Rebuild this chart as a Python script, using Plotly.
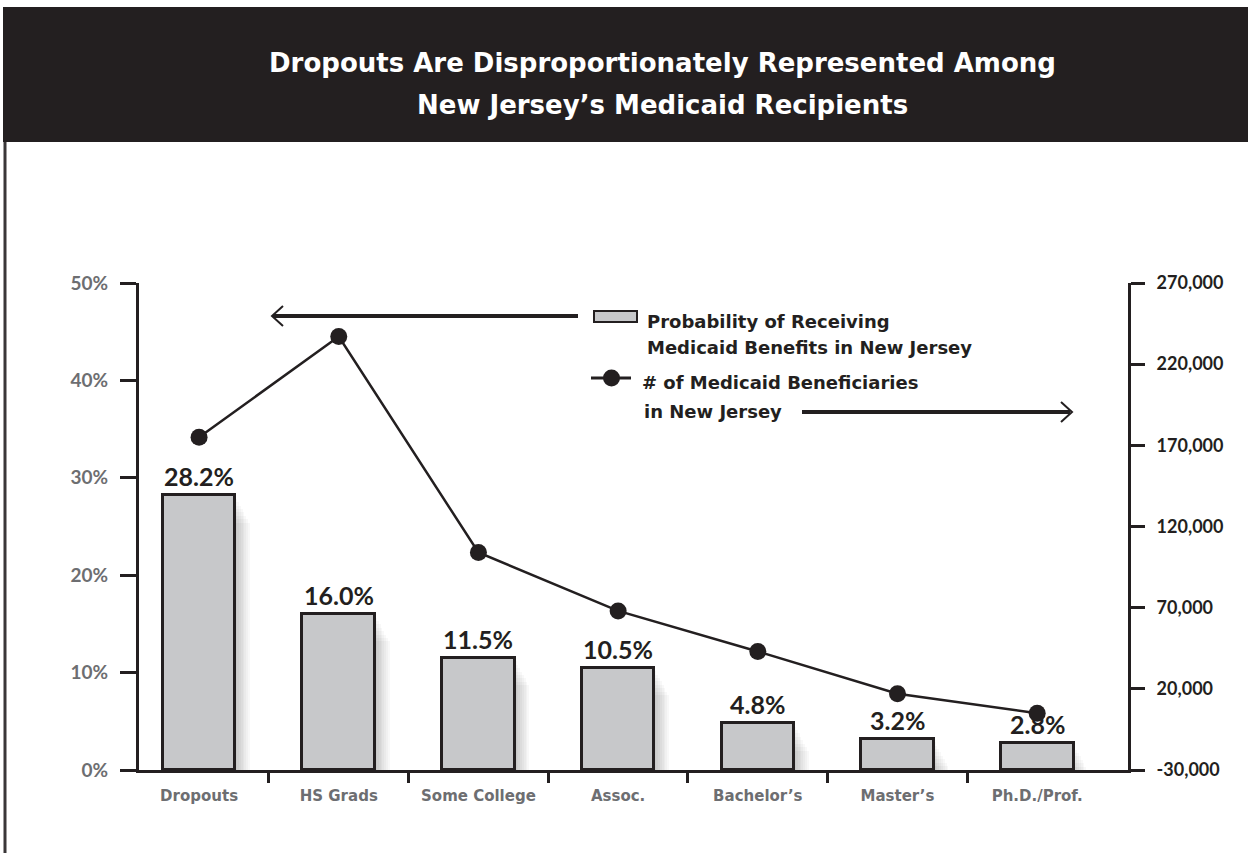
import plotly.graph_objects as go

# Education levels and the two measures plotted against them
categories = ["Dropouts", "HS Grads", "Some College", "Assoc.", "Bachelor\u2019s", "Master\u2019s", "Ph.D./Prof."]
probability_pct = [28.2, 16.0, 11.5, 10.5, 4.8, 3.2, 2.8]
beneficiaries = [175000, 237000, 104000, 68000, 43000, 17000, 5000]

left_ticks = [0, 10, 20, 30, 40, 50]
left_labels = ["0%", "10%", "20%", "30%", "40%", "50%"]
right_ticks = [-30000, 20000, 70000, 120000, 170000, 220000, 270000]
right_labels = ["-30,000", "20,000", "70,000", "120,000", "170,000", "220,000", "270,000"]

DARK = "#231f20"
GREY_TXT = "#6d6e71"
BAR_FILL = "#c7c8ca"
ROUND = "Lato"
WIDE = "DejaVu Sans"

W, H = 1248, 853
PL, PR, PT, PB = 139, 1128, 283, 770


def px(x):
    return (x - PL) / (PR - PL)


def py(y):
    return (PB - y) / (PB - PT)


xs = list(range(len(categories)))
fig = go.Figure()

# soft drop shadow to the right of each bar: stacked translucent layers,
# each a little further right and a little lower
for j in range(1, 9):
    fig.add_trace(go.Bar(
        x=xs, y=[max(v - 0.35 * j, 0) for v in probability_pct],
        offset=-0.26 + 0.013 * j, width=0.52,
        marker=dict(color="rgba(0,0,0,0.028)", line=dict(width=0)),
        hoverinfo="skip", showlegend=False,
    ))

fig.add_trace(go.Bar(
    x=xs, y=probability_pct, offset=-0.26, width=0.52,
    marker=dict(color=BAR_FILL, line=dict(color=DARK, width=3)),
    name="Probability of Receiving Medicaid Benefits in New Jersey",
    showlegend=False,
))

fig.add_trace(go.Scatter(
    x=xs, y=beneficiaries, yaxis="y2", mode="lines+markers",
    line=dict(color=DARK, width=2.5),
    marker=dict(color=DARK, size=17),
    name="# of Medicaid Beneficiaries in New Jersey",
    showlegend=False, cliponaxis=False,
))

annotations = []
for x, v in zip(xs, probability_pct):
    annotations.append(dict(
        x=x, y=v, xref="x", yref="y", text=f"{v:.1f}%", showarrow=False,
        yanchor="bottom", yshift=2,
        font=dict(family=ROUND, size=25, color=DARK, weight="bold"),
    ))

# title band
title_font = dict(family=WIDE, size=26, color="white", weight="bold")
annotations += [
    dict(x=px(662), y=py(63), xref="paper", yref="paper", showarrow=False,
         xanchor="center", yanchor="middle",
         text="Dropouts Are Disproportionately Represented Among", font=title_font),
    dict(x=px(662), y=py(105), xref="paper", yref="paper", showarrow=False,
         xanchor="center", yanchor="middle",
         text="New Jersey\u2019s Medicaid Recipients", font=title_font),
]

# legend texts
leg_font = dict(family=WIDE, size=18, color=DARK, weight="bold")
for txt, x0, yc in [
    ("Probability of Receiving", 645, 321),
    ("Medicaid Benefits in New Jersey", 645, 347),
    ("# of Medicaid Beneficiaries", 640, 382),
    ("in New Jersey", 642, 411),
]:
    annotations.append(dict(x=px(x0), y=py(yc), xref="paper", yref="paper",
                            text=txt, showarrow=False, xanchor="left",
                            yanchor="middle", font=leg_font))

shapes = [
    dict(type="rect", xref="paper", yref="paper", x0=px(3), x1=px(1248),
         y0=py(142), y1=py(7), fillcolor=DARK, line=dict(width=0), layer="above"),
    dict(type="line", xref="paper", yref="paper", x0=px(5), x1=px(5),
         y0=py(142), y1=py(853), line=dict(color="#3a3738", width=3), layer="above"),
    # legend: bar swatch with arrow pointing to the left axis
    dict(type="rect", xref="paper", yref="paper", x0=px(594), x1=px(637),
         y0=py(322), y1=py(311), fillcolor=BAR_FILL, line=dict(color=DARK, width=2)),
    dict(type="line", xref="paper", yref="paper", x0=px(273), x1=px(578),
         y0=py(316), y1=py(316), line=dict(color=DARK, width=4)),
    dict(type="path", xref="paper", yref="paper",
         path=f"M{px(283)},{py(306)} L{px(272)},{py(316)} L{px(283)},{py(326)}",
         line=dict(color=DARK, width=2)),
    # legend: line marker with arrow pointing to the right axis
    dict(type="line", xref="paper", yref="paper", x0=px(591), x1=px(631),
         y0=py(378), y1=py(378), line=dict(color=DARK, width=3)),
    dict(type="circle", xref="paper", yref="paper", x0=px(603), x1=px(620),
         y0=py(386.5), y1=py(369.5), fillcolor=DARK, line=dict(width=0)),
    dict(type="line", xref="paper", yref="paper", x0=px(802), x1=px(1070),
         y0=py(412), y1=py(412), line=dict(color=DARK, width=4)),
    dict(type="path", xref="paper", yref="paper",
         path=f"M{px(1061)},{py(402)} L{px(1072)},{py(412)} L{px(1061)},{py(422)}",
         line=dict(color=DARK, width=2)),
]

fig.update_layout(
    width=W, height=H,
    margin=dict(l=PL, r=W - PR, t=PT, b=H - PB, pad=0),
    paper_bgcolor="white", plot_bgcolor="white",
    barmode="overlay", bargap=0,
    showlegend=False,
    annotations=annotations, shapes=shapes,
    xaxis=dict(
        range=[-0.43, 6.65], tickvals=xs, ticktext=categories,
        ticks="", showgrid=False, zeroline=False,
        showline=True, linecolor=DARK, linewidth=3,
        tickfont=dict(family=WIDE, size=15, color=GREY_TXT, weight="bold"),
        ticklabelstandoff=10,
        minor=dict(tickvals=[0.5, 1.5, 2.5, 3.5, 4.5, 5.5], ticks="outside",
                   ticklen=10, tickwidth=3, tickcolor=DARK, showgrid=False),
    ),
    yaxis=dict(
        range=[0, 50], tickvals=left_ticks, ticktext=left_labels,
        ticks="outside", ticklen=16, tickwidth=3, tickcolor=DARK,
        showline=True, linecolor=DARK, linewidth=3,
        showgrid=False, zeroline=False,
        tickfont=dict(family=ROUND, size=19, color=GREY_TXT, weight="bold"),
        ticklabelstandoff=8,
    ),
    yaxis2=dict(
        range=[-30000, 270000], tickvals=right_ticks, ticktext=right_labels,
        overlaying="y", side="right",
        ticks="outside", ticklen=14, tickwidth=3, tickcolor=DARK,
        showline=True, linecolor=DARK, linewidth=3,
        showgrid=False, zeroline=False,
        tickfont=dict(family=ROUND, size=18, color=DARK, weight="bold"),
        ticklabelstandoff=8,
    ),
)

fig.write_html("out.html")
